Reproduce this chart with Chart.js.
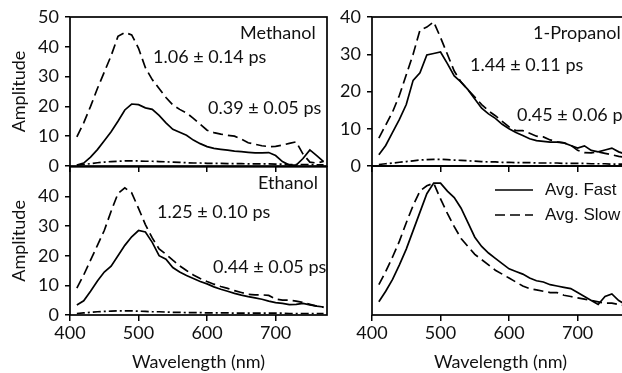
<!DOCTYPE html>
<html>
<head>
<meta charset="utf-8">
<script src="https://cdn.jsdelivr.net/npm/chart.js@4.4.1/dist/chart.umd.min.js"></script>
<style>
  html, body { margin: 0; padding: 0; background: #fff; overflow: hidden; }
  #wrap { position: relative; width: 622px; height: 373px; overflow: hidden; background: #fff; }
  #wrap canvas { position: absolute; }
  .note { position: absolute; font-family: Lato, sans-serif; font-size: 18px; line-height: 20px; color: #111; white-space: nowrap; }
</style>
</head>
<body>
<div id="wrap">
  <canvas id="ethanol" width="340" height="223" style="left:0;top:150px"></canvas>
  <canvas id="average" width="310" height="223" style="left:330px;top:150px"></canvas>
  <canvas id="methanol" width="340" height="186" style="left:0;top:0"></canvas>
  <canvas id="propanol" width="310" height="186" style="left:330px;top:0"></canvas>

  <div class="note" style="left:240px;top:22px">Methanol</div>
  <div class="note" style="left:153px;top:46px">1.06 ± 0.14 ps</div>
  <div class="note" style="left:208px;top:97px">0.39 ± 0.05 ps</div>

  <div class="note" style="left:533px;top:22px">1-Propanol</div>
  <div class="note" style="left:470px;top:54px">1.44 ± 0.11 ps</div>
  <div class="note" style="left:517px;top:104px">0.45 ± 0.06 ps</div>

  <div class="note" style="left:258px;top:172px">Ethanol</div>
  <div class="note" style="left:157px;top:201px">1.25 ± 0.10 ps</div>
  <div class="note" style="left:213px;top:256px">0.44 ± 0.05 ps</div>
</div>
<script>
// Wavelength grid (nm)
const wavelengths = [410, 420, 430, 440, 450, 460, 470, 480, 490, 500,
  510, 520, 530, 540, 550, 560, 570, 580, 590, 600,
  610, 620, 630, 640, 650, 660, 670, 680, 690, 700,
  710, 720, 730, 740, 750, 760, 770];

// Methanol decay-associated amplitudes
const methanolFast = [0.3, 1, 3, 5.5, 8.5, 11.5, 15, 18.8, 20.8, 20.6,
  19.5, 19, 17, 14.5, 12.3, 11.3, 10.3, 8.7, 7.5, 6.5,
  5.9, 5.6, 5.3, 5, 4.8, 4.6, 4.4, 4.4, 4.5, 3.5,
  1.5, 0.3, 0.3, 2.5, 5.4, 3.5, 1.5];
const methanolSlow = [9.8, 14.5, 20, 26, 31.5, 37, 43.5, 44.8, 44, 39.5,
  33, 29, 26, 23, 20.5, 19, 17.8, 16, 14, 12,
  11.2, 10.7, 10.3, 10, 9, 7.8, 7.3, 6.8, 6.5, 6.6,
  7, 7.6, 8.1, 4, 1.3, 1, 1.5];
const methanolLong = [0.3, 0.5, 0.8, 1.1, 1.3, 1.5, 1.6, 1.7, 1.7, 1.7,
  1.6, 1.6, 1.5, 1.4, 1.3, 1.2, 1.1, 1, 1, 0.9,
  0.9, 0.9, 0.8, 0.8, 0.8, 0.7, 0.7, 0.7, 0.7, 0.6,
  0.6, 0.5, 0.5, 0.5, 0.5, 0.4, 0.4];

// 1-Propanol
const propanolFast = [3, 5.5, 9, 12.5, 16.5, 23, 25, 29.8, 30.2, 30.6,
  27.5, 24.2, 22.5, 20.5, 18, 15.5, 14, 12.8, 11.2, 10,
  9, 8.2, 7.3, 6.8, 6.6, 6.4, 6.4, 6.2, 5.5, 4.8,
  5.4, 4.2, 3.8, 4.3, 4.8, 3.8, 3.2];
const propanolSlow = [7.5, 11, 14.5, 19, 24.5, 30, 36.5, 37.3, 38.7, 34.5,
  30, 25.5, 22.5, 20.5, 18.5, 16.5, 14.8, 13.5, 12, 10.5,
  9.5, 9.5, 8.8, 8, 7.8, 7, 6.5, 6.2, 5.6, 4.2,
  3.6, 3.5, 3.8, 3.4, 3, 2.6, 2.3];
const propanolLong = [0.4, 0.6, 0.8, 1, 1.2, 1.4, 1.6, 1.7, 1.8, 1.8,
  1.7, 1.6, 1.5, 1.4, 1.3, 1.2, 1.1, 1.1, 1, 1,
  0.9, 0.9, 0.9, 0.8, 0.8, 0.8, 0.8, 0.7, 0.7, 0.7,
  0.7, 0.6, 0.6, 0.6, 0.5, 0.5, 0.5];

// Ethanol
const ethanolFast = [3.4, 4.8, 8, 11.5, 14.5, 16.5, 20, 23.5, 26.4, 28.5,
  28, 24.5, 20, 18.8, 16, 14.5, 13.3, 12.3, 11.3, 10.5,
  9.5, 8.7, 8, 7.3, 6.7, 6.2, 5.8, 5.3, 4.7, 4.2,
  3.9, 3.5, 3.6, 3.9, 3.4, 3, 2.7];
const ethanolSlow = [9.1, 13.5, 18.5, 23.5, 28.5, 35, 41, 42.9, 41.2, 36,
  30.5, 26, 22.3, 20.5, 18.5, 16.6, 15, 13.5, 12.3, 11.3,
  10.4, 9.6, 9, 8.2, 7.6, 7, 6.8, 6.8, 6.6, 5.4,
  5, 5, 4.7, 4.2, 3.6, 3, 2.6];
const ethanolLong = [0.5, 0.7, 0.9, 1.1, 1.2, 1.3, 1.4, 1.4, 1.4, 1.3,
  1.2, 1.1, 1.1, 1, 0.9, 0.9, 0.8, 0.8, 0.8, 0.7,
  0.7, 0.7, 0.7, 0.6, 0.6, 0.6, 0.6, 0.6, 0.6, 0.6,
  0.6, 0.5, 0.5, 0.5, 0.5, 0.5, 0.5];

// Normalised averages over the three solvents
const avgFast = [0.1, 0.18, 0.27, 0.38, 0.5, 0.64, 0.78, 0.92, 1, 1,
  0.94, 0.89, 0.81, 0.7, 0.59, 0.52, 0.47, 0.43, 0.39, 0.35,
  0.33, 0.31, 0.28, 0.26, 0.25, 0.23, 0.22, 0.21, 0.2, 0.17,
  0.14, 0.11, 0.08, 0.14, 0.16, 0.11, 0.08];
const avgSlow = [0.23, 0.33, 0.44, 0.56, 0.7, 0.83, 0.94, 0.98, 1, 0.88,
  0.77, 0.67, 0.58, 0.52, 0.46, 0.42, 0.38, 0.34, 0.31, 0.28,
  0.25, 0.22, 0.2, 0.19, 0.18, 0.17, 0.17, 0.15, 0.14, 0.13,
  0.12, 0.11, 0.1, 0.09, 0.09, 0.08, 0.07];

// Axis ticks
const xTicks = [400, 500, 600, 700];
const yTicksMethanol = [0, 10, 20, 30, 40, 50];
const yTicksPropanol = [0, 10, 20, 30, 40];
const yTicksEthanol = [0, 10, 20, 30, 40];

const INK = '#000';
const TEXT = '#111';
const labelFont = { family: 'Lato', size: 18 };
const dashes = { fast: [], slow: [10, 5], long: [8, 3, 2, 3] };

function series(values, kind, label) {
  return {
    label: label,
    data: wavelengths.map((w, i) => ({ x: w, y: values[i] })),
    borderColor: INK,
    borderWidth: 1.7,
    borderDash: dashes[kind],
    pointRadius: 0,
    tension: 0,
    fill: false
  };
}

const fixedTicks = list => scale => { scale.ticks = list.map(v => ({ value: v })); };

// Box around each plot area
const framePlugin = {
  id: 'frame',
  afterDraw(chart) {
    const { ctx, chartArea: a } = chart;
    ctx.save();
    ctx.strokeStyle = INK;
    ctx.lineWidth = 1.7;
    ctx.strokeRect(a.left, a.top, a.right - a.left, a.bottom - a.top);
    ctx.restore();
  }
};

// Line-sample key for the averaged panel
const keyPlugin = {
  id: 'seriesKey',
  afterDraw(chart, args, opts) {
    const ctx = chart.ctx;
    ctx.save();
    chart.data.datasets.forEach((ds, i) => {
      const y = opts.top + i * opts.rowGap;
      ctx.strokeStyle = INK;
      ctx.lineWidth = ds.borderWidth;
      ctx.setLineDash(ds.borderDash);
      ctx.beginPath();
      ctx.moveTo(opts.left, y);
      ctx.lineTo(opts.left + opts.lineLength, y);
      ctx.stroke();
      ctx.setLineDash([]);
      ctx.fillStyle = TEXT;
      ctx.font = opts.font;
      ctx.textBaseline = 'middle';
      ctx.fillText(ds.label, opts.left + opts.lineLength + opts.gap, y);
    });
    ctx.restore();
  }
};

function xScale(showLabels, height) {
  return {
    type: 'linear', min: 400, max: 775,
    afterBuildTicks: fixedTicks(xTicks),
    afterFit: s => { s.height = height; },
    border: { display: false },
    grid: { drawOnChartArea: false, drawTicks: true, tickLength: 6, color: INK, lineWidth: 1.5 },
    ticks: { display: showLabels, font: labelFont, color: TEXT, padding: 1, maxRotation: 0 },
    title: { display: showLabels, text: 'Wavelength (nm)', font: labelFont, color: TEXT, padding: { top: 0, bottom: 0 } }
  };
}

function yScale(max, ticks, width, withTitle) {
  return {
    min: 0, max: max,
    afterBuildTicks: ticks ? fixedTicks(ticks) : undefined,
    afterFit: s => { s.width = width; },
    border: { display: false },
    grid: { drawOnChartArea: false, drawTicks: !!ticks, tickLength: 5, color: INK, lineWidth: 1.5 },
    ticks: { display: !!ticks, font: labelFont, color: TEXT, padding: 6 },
    title: { display: withTitle, text: 'Amplitude', font: labelFont, color: TEXT, padding: { top: 8, bottom: 0 } }
  };
}

function panel(id, datasets, scales, padding, extra) {
  const plugins = { legend: { display: false }, tooltip: { enabled: false } };
  Object.assign(plugins, extra || {});
  return new Chart(document.getElementById(id), {
    type: 'line',
    data: { datasets: datasets },
    options: {
      responsive: false,
      animation: false,
      devicePixelRatio: 1,
      layout: { padding: padding },
      scales: scales,
      plugins: plugins
    },
    plugins: [framePlugin].concat(extra && extra.seriesKey ? [keyPlugin] : [])
  });
}

panel('methanol',
  [series(methanolFast, 'fast', 'Fast'), series(methanolSlow, 'slow', 'Slow'), series(methanolLong, 'long', 'Long')],
  { x: xScale(false, 20), y: yScale(50, yTicksMethanol, 70, true) },
  { top: 17, right: 13, left: 0, bottom: 0 });

panel('propanol',
  [series(propanolFast, 'fast', 'Fast'), series(propanolSlow, 'slow', 'Slow'), series(propanolLong, 'long', 'Long')],
  { x: xScale(false, 20), y: yScale(40, yTicksPropanol, 42, false) },
  { top: 17, right: 11, left: 0, bottom: 0 });

panel('ethanol',
  [series(ethanolFast, 'fast', 'Fast'), series(ethanolSlow, 'slow', 'Slow'), series(ethanolLong, 'long', 'Long')],
  { x: xScale(true, 58), y: yScale(50, yTicksEthanol, 70, true) },
  { top: 16, right: 13, left: 0, bottom: 0 });

panel('average',
  [series(avgFast, 'fast', 'Avg. Fast'), series(avgSlow, 'slow', 'Avg. Slow')],
  { x: xScale(true, 58), y: yScale(1.13, null, 42, false) },
  { top: 16, right: 11, left: 0, bottom: 0 },
  { seriesKey: { left: 165, top: 40, rowGap: 25, lineLength: 38, gap: 12, font: '17px "Liberation Sans"' } });
</script>
</body>
</html>
